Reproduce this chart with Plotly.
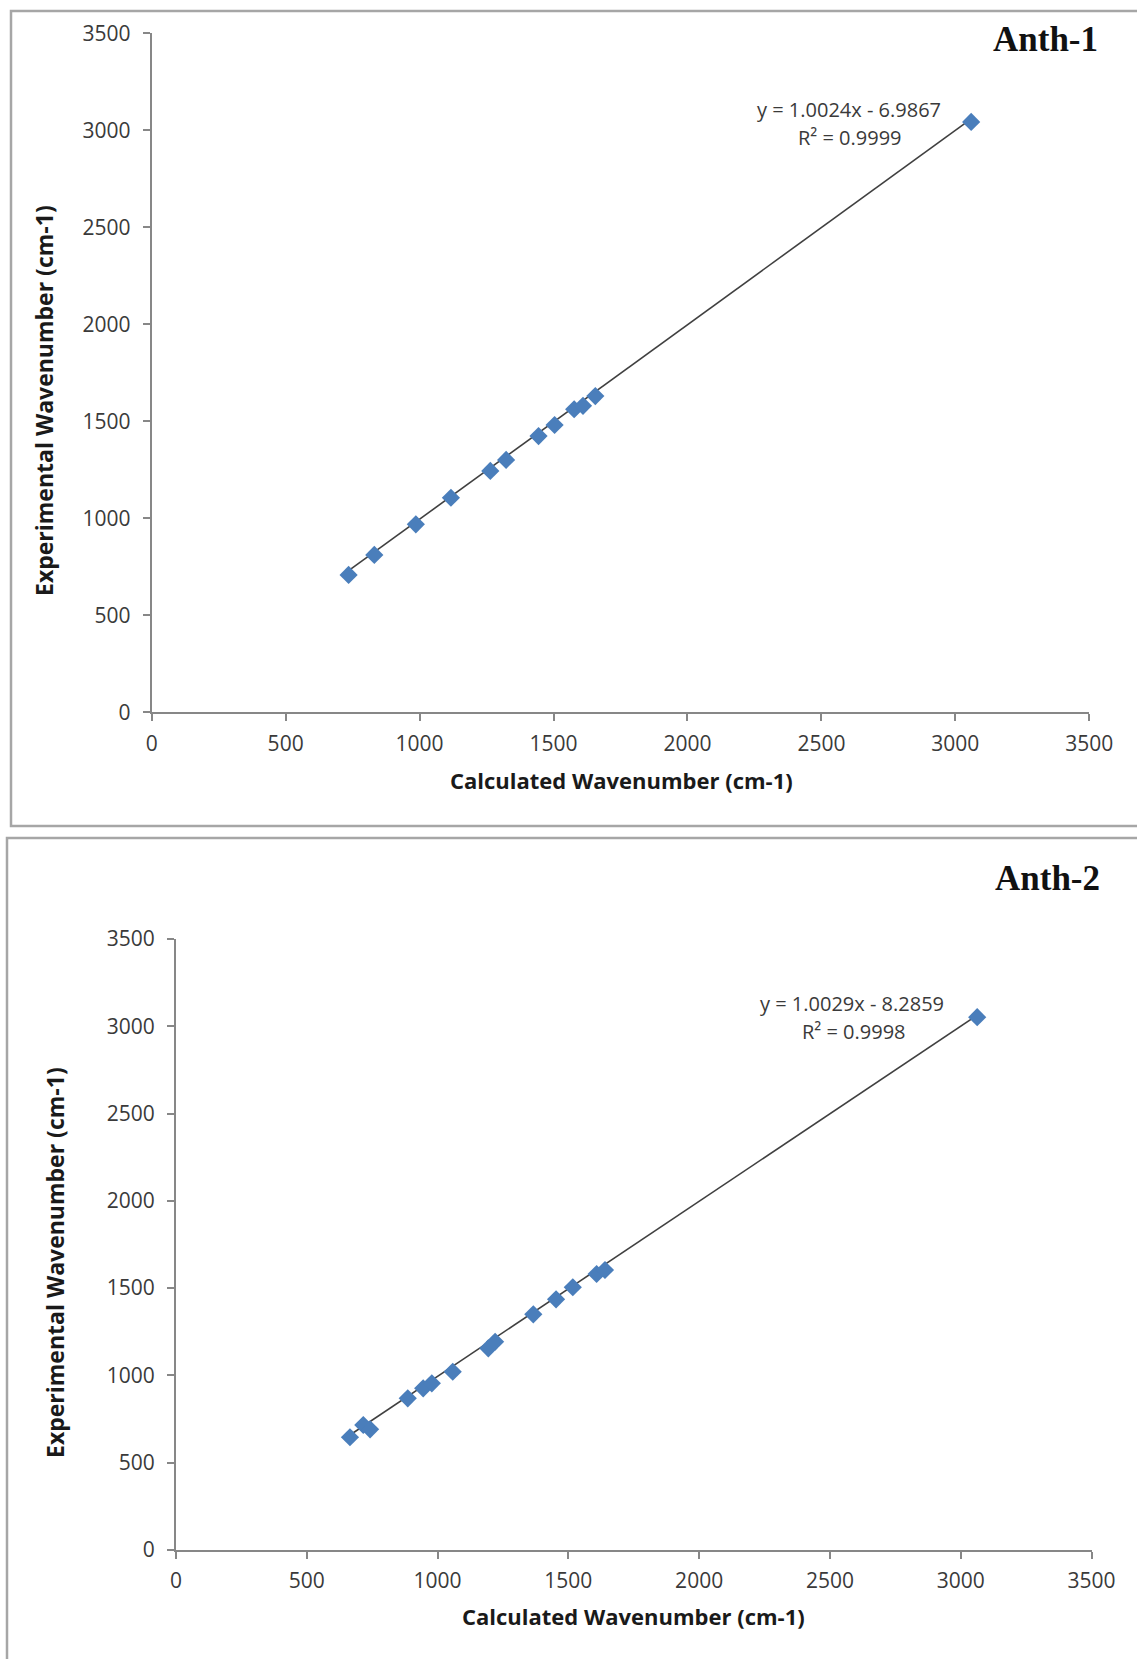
import plotly.graph_objects as go

# ---------------- data ----------------
anth1_calc = [735, 831, 986, 1117, 1264, 1323, 1444, 1504, 1577, 1610, 1656, 3059]
anth1_exp = [708, 811, 969, 1106, 1244, 1301, 1424, 1481, 1562, 1580, 1630, 3043]
anth1_slope, anth1_intercept = 1.0024, -6.9867
anth1_eq = "y = 1.0024x - 6.9867"
anth1_r2 = "R² = 0.9999"

anth2_calc = [665, 716, 742, 886, 945, 978, 1058, 1194, 1220, 1366, 1453, 1517, 1608, 1640, 3063]
anth2_exp = [646, 716, 691, 869, 926, 955, 1021, 1155, 1193, 1350, 1436, 1505, 1581, 1604, 3052]
anth2_slope, anth2_intercept = 1.0029, -8.2859
anth2_eq = "y = 1.0029x - 8.2859"
anth2_r2 = "R² = 0.9998"

tick_vals = [0, 500, 1000, 1500, 2000, 2500, 3000, 3500]
tick_text = ["0", "500", "1000", "1500", "2000", "2500", "3000", "3500"]
x_title = "Calculated Wavenumber (cm-1)"
y_title = "Experimental Wavenumber (cm-1)"
titles = ["Anth-1", "Anth-2"]

# ---------------- layout helpers ----------------
W, H = 1137, 1659
def px(x):
    return x / W
def py(y):
    return 1 - y / H

MARK = "#4a7ebb"
LINE = "#404040"
AXIS = "#878787"
TXT = "#3a3a3a"
FONT = "Open Sans"

fig = go.Figure()

panels = [
    dict(calc=anth1_calc, exp=anth1_exp, m=anth1_slope, b=anth1_intercept,
         eq=anth1_eq, r2=anth1_r2, xa="x", ya="y",
         xd=[px(151.7), px(1089.3)], yd=[py(712.3), py(33.3)],
         title_pos=(1045, 40), eq_pos=(849, 109), r2_pos=(850, 137),
         ytitle=(44, 401), xtitle=(621, 780), box=(11, 11, 1145, 826)),
    dict(calc=anth2_calc, exp=anth2_exp, m=anth2_slope, b=anth2_intercept,
         eq=anth2_eq, r2=anth2_r2, xa="x2", ya="y2",
         xd=[px(176), px(1091.5)], yd=[py(1550), py(939)],
         title_pos=(1047, 878), eq_pos=(852, 1003), r2_pos=(854, 1031),
         ytitle=(55, 1263), xtitle=(633, 1616), box=(7, 838, 1145, 1670)),
]

shapes = []
annotations = []
for i, p in enumerate(panels):
    xmin, xmax = min(p["calc"]), max(p["calc"])
    fig.add_trace(go.Scatter(
        x=[xmin, xmax], y=[p["m"] * xmin + p["b"], p["m"] * xmax + p["b"]],
        mode="lines", line=dict(color=LINE, width=1.6),
        xaxis=p["xa"], yaxis=p["ya"], showlegend=False, hoverinfo="skip"))
    fig.add_trace(go.Scatter(
        x=p["calc"], y=p["exp"], mode="markers",
        marker=dict(symbol="diamond", size=14, color=MARK),
        xaxis=p["xa"], yaxis=p["ya"], showlegend=False))

    sfx = "" if i == 0 else "2"
    axis_common = dict(range=[0, 3500], tickvals=tick_vals, ticktext=tick_text,
                       showgrid=False, zeroline=False, showline=True,
                       linecolor=AXIS, linewidth=2, ticks="outside",
                       ticklen=7, tickwidth=2, tickcolor=AXIS,
                       tickfont=dict(family=FONT, size=21, color=TXT),
                       automargin=False, fixedrange=True)
    fig.layout["xaxis" + sfx] = dict(axis_common, domain=p["xd"],
                                     anchor="y" + sfx, ticklabelstandoff=4)
    fig.layout["yaxis" + sfx] = dict(axis_common, domain=p["yd"],
                                     anchor="x" + sfx, ticklabelstandoff=8)

    x0, y0, x1, y1 = p["box"]
    shapes.append(dict(type="rect", xref="paper", yref="paper",
                       x0=px(x0), x1=px(x1), y0=py(y1), y1=py(y0),
                       line=dict(color="#a6a6a6", width=2.5), layer="below"))

    annotations.append(dict(text="<b>" + titles[i] + "</b>", xref="paper", yref="paper",
                            x=px(p["title_pos"][0]), y=py(p["title_pos"][1]),
                            xanchor="center", yanchor="middle", showarrow=False,
                            font=dict(family="Liberation Serif", size=35, color="#111111")))
    annotations.append(dict(text=p["eq"], xref="paper", yref="paper",
                            x=px(p["eq_pos"][0]), y=py(p["eq_pos"][1]),
                            xanchor="center", yanchor="middle", showarrow=False,
                            font=dict(family=FONT, size=20, color=TXT)))
    annotations.append(dict(text=p["r2"], xref="paper", yref="paper",
                            x=px(p["r2_pos"][0]), y=py(p["r2_pos"][1]),
                            xanchor="center", yanchor="middle", showarrow=False,
                            font=dict(family=FONT, size=20, color=TXT)))
    annotations.append(dict(text="<b>" + x_title + "</b>", xref="paper", yref="paper",
                            x=px(p["xtitle"][0]), y=py(p["xtitle"][1]),
                            xanchor="center", yanchor="middle", showarrow=False,
                            font=dict(family=FONT, size=22, color="#1a1a1a")))
    annotations.append(dict(text="<b>" + y_title + "</b>", xref="paper", yref="paper",
                            x=px(p["ytitle"][0]), y=py(p["ytitle"][1]),
                            xanchor="center", yanchor="middle", showarrow=False,
                            textangle=-90,
                            font=dict(family=FONT, size=23, color="#1a1a1a")))

fig.update_layout(width=W, height=H, margin=dict(l=0, r=0, t=0, b=0),
                  paper_bgcolor="white", plot_bgcolor="white",
                  shapes=shapes, annotations=annotations, showlegend=False)

fig.write_html("out.html", config={"displayModeBar": False},
               post_script="document.body.style.margin='0';document.documentElement.style.overflow='hidden';")
